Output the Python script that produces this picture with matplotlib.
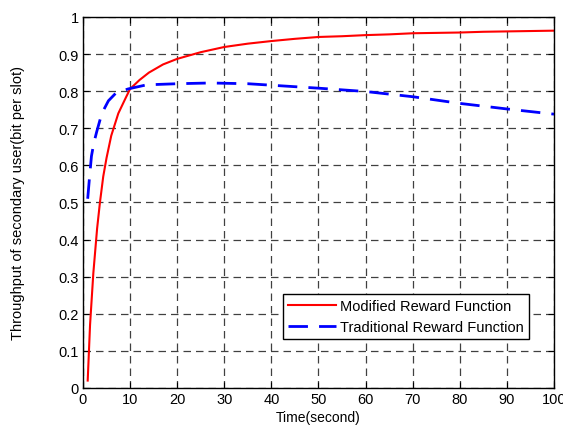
import matplotlib
matplotlib.use("Agg")
import matplotlib.pyplot as plt
import numpy as np

plt.rcParams['font.family'] = ['Liberation Sans', 'DejaVu Sans']

# values
time_mod = [1, 1.5, 2.2, 3, 3.6, 4.3, 5, 6, 7.5, 9, 10, 12, 14, 17, 20, 25, 30, 35, 40, 45, 50, 55, 60, 65, 70, 75, 80, 85, 90, 95, 100]
thr_mod = [0.02, 0.17, 0.31, 0.43, 0.50, 0.57, 0.62, 0.68, 0.74, 0.78, 0.806, 0.83, 0.85, 0.872, 0.887, 0.905, 0.919, 0.928, 0.935, 0.941, 0.946, 0.948, 0.951, 0.953, 0.956, 0.957, 0.958, 0.96, 0.961, 0.962, 0.963]

time_trad = [1, 1.4, 1.8, 2.3, 2.9, 4, 5.4, 7, 9.6, 13.5, 20, 27, 35, 40, 50, 60, 70, 80, 90, 100]
thr_trad = [0.51, 0.57, 0.625, 0.66, 0.69, 0.74, 0.774, 0.795, 0.806, 0.817, 0.82, 0.822, 0.82, 0.816, 0.808, 0.799, 0.785, 0.767, 0.752, 0.738]

fig = plt.figure(figsize=(5.63, 4.27), dpi=100)
ax = fig.add_axes([0.1474, 0.089, 0.8366, 0.869])

ax.plot(time_mod, thr_mod, color='#ff0000', lw=1.5, label='Modified Reward Function')
ax.plot(time_trad, thr_trad, color='#0000ff', lw=2.0, dashes=(7, 4), label='Traditional Reward Function')

ax.set_xlim(0, 100)
ax.set_ylim(0, 1)
ax.set_xticks(np.arange(0, 101, 10))
ax.set_yticks(np.arange(0, 1.01, 0.1))
ax.set_xticklabels([str(v) for v in range(0, 101, 10)])
ax.set_yticklabels(['0', '0.1', '0.2', '0.3', '0.4', '0.5', '0.6', '0.7', '0.8', '0.9', '1'])
ax.tick_params(direction='in', top=True, right=True, labelsize=10.5, length=4, pad=3)
ax.grid(True, color='#404040', linestyle=(0, (6, 4)), lw=0.9)
for s in ax.spines.values():
    s.set_linewidth(1.0)

ax.set_xlabel('Time(second)', fontsize=10, labelpad=3)
ax.set_ylabel('Throughput of secondary user(bit per slot)', fontsize=10.5, labelpad=24)

leg = ax.legend(loc='lower right', bbox_to_anchor=(0.947, 0.132), borderaxespad=0,
                fancybox=False, framealpha=1, edgecolor='black', fontsize=10.5,
                handlelength=3.3, handletextpad=0.3, borderpad=0.35, labelspacing=0.45)
leg.get_frame().set_linewidth(1.0)

fig.savefig('out.png', dpi=100)
